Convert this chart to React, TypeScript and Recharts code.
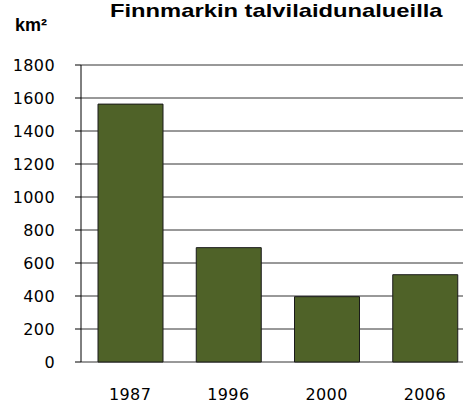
import { BarChart, Bar, XAxis, YAxis, CartesianGrid } from 'recharts';

const years = ['1987', '1996', '2000', '2006'];
const areas = [1563, 693, 396, 529];
const yTicks = [0, 200, 400, 600, 800, 1000, 1200, 1400, 1600, 1800];
const boundaryTicks = [0, 1, 2, 3, 4];

const data = years.map((year, i) => ({ year, area: areas[i], pos: i + 0.5 }));

const labelStyle = {
  fontFamily: 'DejaVu Sans',
  fontSize: 16,
  letterSpacing: 0.4,
  fill: '#000',
};

const App = () => {
  return (
    <div
      style={{
        position: 'absolute',
        left: 0,
        top: 0,
        width: 463,
        height: 405,
        overflow: 'hidden',
        background: '#fff',
      }}
    >
      <div
        style={{
          position: 'absolute',
          left: 110,
          top: 1,
          fontFamily: 'Liberation Sans',
          fontWeight: 'bold',
          fontSize: 19,
          lineHeight: '20px',
          whiteSpace: 'nowrap',
          transform: 'scaleX(1.25)',
          transformOrigin: 'left top',
        }}
      >
        Finnmarkin talvilaidunalueilla
      </div>
      <div
        style={{
          position: 'absolute',
          left: 15,
          top: 15,
          fontFamily: 'Liberation Sans',
          fontWeight: 'bold',
          fontSize: 18,
        }}
      >
        km²
      </div>
      <BarChart
        width={480}
        height={405}
        data={data}
        margin={{ top: 65, right: 6, bottom: 0, left: 0 }}
      >
        <CartesianGrid vertical={false} stroke="#333" />
        <XAxis
          xAxisId="marks"
          dataKey="pos"
          type="number"
          domain={[0, 4]}
          ticks={boundaryTicks}
          tick={false}
          tickSize={5}
          height={0}
          stroke="#000"
        />
        <XAxis
          dataKey="year"
          axisLine={false}
          tickLine={false}
          tickSize={0}
          tickMargin={27}
          height={43}
          tick={labelStyle}
        />
        <YAxis
          width={81}
          domain={[0, 1800]}
          ticks={yTicks}
          tickSize={6}
          tickMargin={20}
          stroke="#000"
          tick={labelStyle}
        />
        <Bar
          dataKey="area"
          barSize={65}
          fill="#4f6228"
          stroke="#1a1a1a"
          strokeWidth={1}
          isAnimationActive={false}
        />
      </BarChart>
    </div>
  );
};

export default App;
